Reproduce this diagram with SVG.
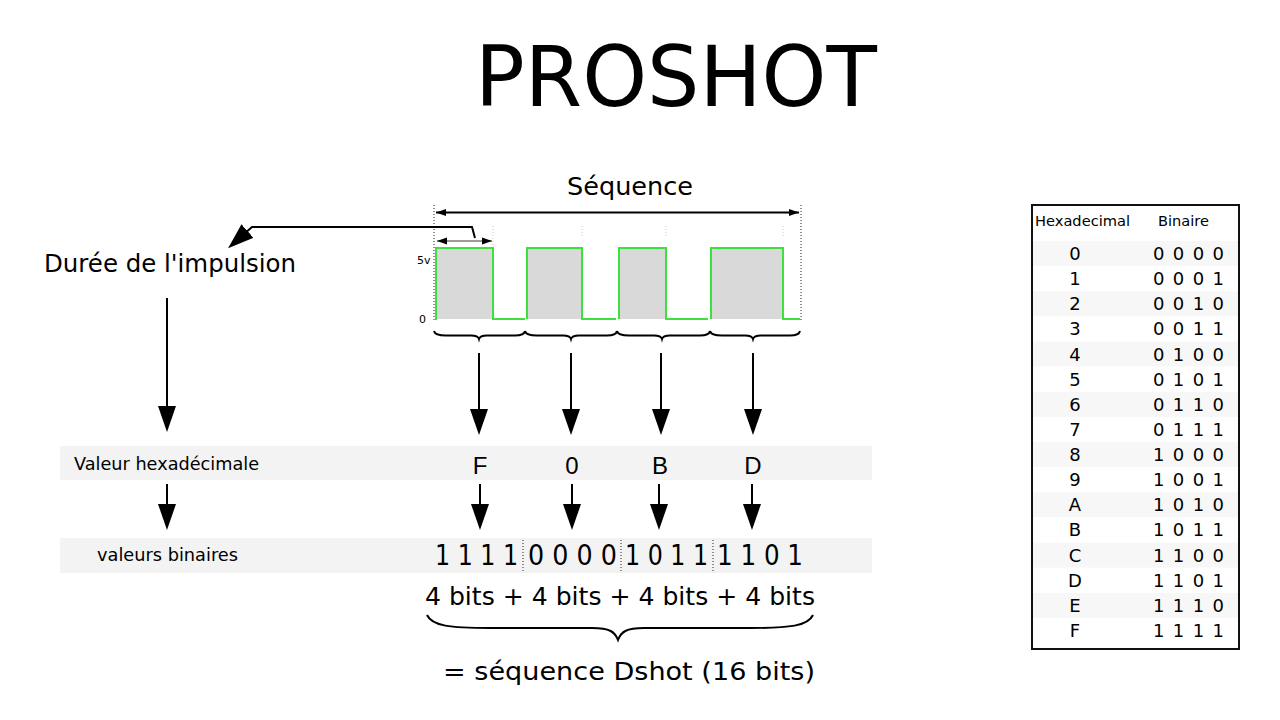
<svg xmlns="http://www.w3.org/2000/svg" width="1280" height="720" viewBox="0 0 1280 720">
<style>
  .t{font-family:"DejaVu Sans","Liberation Sans",sans-serif;fill:#000}
  .ln{stroke:#000;stroke-width:2;fill:none}
  .dot{stroke:#222;stroke-width:1;stroke-dasharray:1 2;fill:none}
  .faint{stroke:#c8c8c8;stroke-width:1;stroke-dasharray:1 2;fill:none}
  .band{fill:#f3f3f3}
  .tband{fill:#f7f7f7}
  .pulse{fill:#d9d9d9}
  .wave{stroke:#3ee03e;stroke-width:2;fill:none}
  .brace{stroke:#000;stroke-width:2;fill:none}
</style>
<defs>
  <marker id="big" viewBox="0 -9 26 18" refX="6" refY="0" markerWidth="26" markerHeight="18" markerUnits="userSpaceOnUse" orient="auto">
    <path d="M0,-9 L26,0 L0,9 z" fill="#000"/>
  </marker>
  <marker id="sm" viewBox="0 -4 10 8" refX="10" refY="0" markerWidth="10" markerHeight="8" markerUnits="userSpaceOnUse" orient="auto-start-reverse">
    <path d="M0,-3.5 L10,0 L0,3.5 z" fill="#000"/>
  </marker>
</defs>
<rect width="1280" height="720" fill="#fff"/>

<g id="title">
  <text class="t" x="676" y="106" font-size="84" text-anchor="middle" textLength="402" lengthAdjust="spacingAndGlyphs">PROSHOT</text>
</g>

<g id="sequence-label">
  <text class="t" x="630" y="195" font-size="25" text-anchor="middle" textLength="126" lengthAdjust="spacingAndGlyphs">Séquence</text>
</g>

<g id="waveform">
  <line class="dot" x1="434" y1="205" x2="434" y2="321"/>
  <line class="dot" x1="801" y1="205" x2="801" y2="321"/>
  <line class="faint" x1="493" y1="226" x2="493" y2="246"/>
  <line class="faint" x1="582" y1="226" x2="582" y2="236"/>
  <line class="faint" x1="666" y1="226" x2="666" y2="236"/>
  <line class="faint" x1="783" y1="226" x2="783" y2="236"/>
  <rect class="pulse" x="436" y="248" width="57" height="71"/>
  <rect class="pulse" x="527" y="248" width="55" height="71"/>
  <rect class="pulse" x="619" y="248" width="47" height="71"/>
  <rect class="pulse" x="711" y="248" width="72" height="71"/>
  <path class="wave" d="M436,320 L436,248 L493,248 L493,319 L525,319 M527,319 L527,248 L582,248 L582,319 L616,319 M619,319 L619,248 L666,248 L666,319 L708,319 M711,319 L711,248 L783,248 L783,319 L800,319"/>
  <text class="t" x="417" y="264" font-size="11">5v</text>
  <text class="t" x="419" y="323" font-size="11">0</text>
</g>

<g id="braces">
  <path class="brace" d="M434,331 Q435,335.5 446,335.5 L471,335.5 Q478,335.5 479,339 Q480,335.5 487,335.5 L515,335.5 Q524,335.5 525,331"/>
  <path class="brace" d="M525,331 Q526,335.5 537,335.5 L563,335.5 Q570,335.5 571,339 Q572,335.5 579,335.5 L607,335.5 Q616,335.5 617,331"/>
  <path class="brace" d="M617,331 Q618,335.5 629,335.5 L654,335.5 Q661,335.5 662,339 Q663,335.5 670,335.5 L700,335.5 Q709,335.5 710,331"/>
  <path class="brace" d="M710,331 Q711,335.5 722,335.5 L745,335.5 Q752,335.5 753,339 Q754,335.5 761,335.5 L790,335.5 Q799,335.5 800,331"/>
</g>

<g id="duree">
  <text class="t" x="44" y="272" font-size="24" textLength="252" lengthAdjust="spacingAndGlyphs">Durée de l'impulsion</text>
</g>

<g id="hex-row">
  <rect class="band" x="60" y="446" width="812" height="34"/>
  <text class="t" x="74" y="470" font-size="17" textLength="185" lengthAdjust="spacingAndGlyphs">Valeur hexadécimale</text>
  <g font-family="Liberation Sans, Arial, sans-serif" font-size="24" fill="#000" text-anchor="middle">
    <text x="480" y="474">F</text>
    <text x="572" y="474">0</text>
    <text x="660" y="474">B</text>
    <text x="753" y="474">D</text>
  </g>
</g>

<g id="bin-row">
  <rect class="band" x="60" y="538" width="812" height="35"/>
  <text class="t" x="97" y="561" font-size="17.5" textLength="141" lengthAdjust="spacingAndGlyphs">valeurs binaires</text>
  <text class="t" x="435" y="565" font-size="28" textLength="83" lengthAdjust="spacingAndGlyphs">1 1 1 1</text>
  <text class="t" x="528" y="565" font-size="28" textLength="89" lengthAdjust="spacingAndGlyphs">0 0 0 0</text>
  <text class="t" x="625" y="565" font-size="28" textLength="83" lengthAdjust="spacingAndGlyphs">1 0 1 1</text>
  <text class="t" x="717" y="565" font-size="28" textLength="86" lengthAdjust="spacingAndGlyphs">1 1 0 1</text>
  <line class="dot" x1="523" y1="540" x2="523" y2="573"/>
  <line class="dot" x1="621" y1="540" x2="621" y2="573"/>
  <line class="dot" x1="713" y1="540" x2="713" y2="573"/>
</g>

<g id="bits-sum">
  <text class="t" x="425" y="605" font-size="25" textLength="390" lengthAdjust="spacingAndGlyphs">4 bits + 4 bits + 4 bits + 4 bits</text>
  <path class="brace" stroke-width="1.6" d="M427,615 C432,626 450,628 490,628 L592,628 C610,628 615,632 618,640 C621,632 626,628 644,628 L750,628 C790,628 808,626 813,615"/>
  <text class="t" x="443" y="680" font-size="25" textLength="372" lengthAdjust="spacingAndGlyphs">= séquence Dshot (16 bits)</text>
</g>

<g id="connectors">
  <line class="ln" stroke-width="1.5" x1="436" y1="212.5" x2="799" y2="212.5" marker-start="url(#sm)" marker-end="url(#sm)"/>
  <line stroke="#9a9a9a" stroke-width="2" x1="437" y1="241" x2="492" y2="241" marker-start="url(#sm)" marker-end="url(#sm)"/>
  <path class="ln" d="M475,238 L472,227 L252,227 L243,235" marker-end="url(#big)"/>
  <line class="ln" x1="167" y1="298" x2="167" y2="412" marker-end="url(#big)"/>
  <line class="ln" x1="479" y1="353" x2="479" y2="415" marker-end="url(#big)"/>
  <line class="ln" x1="571" y1="353" x2="571" y2="415" marker-end="url(#big)"/>
  <line class="ln" x1="661" y1="353" x2="661" y2="415" marker-end="url(#big)"/>
  <line class="ln" x1="753" y1="353" x2="753" y2="415" marker-end="url(#big)"/>
  <line class="ln" x1="167" y1="484" x2="167" y2="510" marker-end="url(#big)"/>
  <line class="ln" x1="480" y1="484" x2="480" y2="510" marker-end="url(#big)"/>
  <line class="ln" x1="572" y1="484" x2="572" y2="510" marker-end="url(#big)"/>
  <line class="ln" x1="659" y1="484" x2="659" y2="510" marker-end="url(#big)"/>
  <line class="ln" x1="752" y1="484" x2="752" y2="510" marker-end="url(#big)"/>
</g>

<g id="table">
  <rect class="tband" x="1033" y="241" width="205" height="25"/>
  <rect class="tband" x="1033" y="291.3" width="205" height="25"/>
  <rect class="tband" x="1033" y="341.5" width="205" height="25"/>
  <rect class="tband" x="1033" y="391.8" width="205" height="25"/>
  <rect class="tband" x="1033" y="442" width="205" height="25"/>
  <rect class="tband" x="1033" y="492.3" width="205" height="25"/>
  <rect class="tband" x="1033" y="542.6" width="205" height="25"/>
  <rect class="tband" x="1033" y="592.8" width="205" height="25"/>
  <rect x="1032" y="205" width="207" height="444" fill="none" stroke="#111" stroke-width="2"/>
  <text class="t" x="1035" y="225.5" font-size="14.5" textLength="95" lengthAdjust="spacingAndGlyphs">Hexadecimal</text>
  <text class="t" x="1158" y="225.5" font-size="14.5" textLength="51" lengthAdjust="spacingAndGlyphs">Binaire</text>
  <g class="t" font-size="18" text-anchor="middle">
    <text x="1075" y="260">0</text>
    <text x="1075" y="285.1">1</text>
    <text x="1075" y="310.3">2</text>
    <text x="1075" y="335.4">3</text>
    <text x="1075" y="360.5">4</text>
    <text x="1075" y="385.7">5</text>
    <text x="1075" y="410.8">6</text>
    <text x="1075" y="435.9">7</text>
    <text x="1075" y="461">8</text>
    <text x="1075" y="486.2">9</text>
    <text x="1075" y="511.3">A</text>
    <text x="1075" y="536.4">B</text>
    <text x="1075" y="561.6">C</text>
    <text x="1075" y="586.7">D</text>
    <text x="1075" y="611.8">E</text>
    <text x="1075" y="637">F</text>
  </g>
  <g class="t" font-size="18">
    <text x="1153" y="260" textLength="71" lengthAdjust="spacing">0 0 0 0</text>
    <text x="1153" y="285.1" textLength="71" lengthAdjust="spacing">0 0 0 1</text>
    <text x="1153" y="310.3" textLength="71" lengthAdjust="spacing">0 0 1 0</text>
    <text x="1153" y="335.4" textLength="71" lengthAdjust="spacing">0 0 1 1</text>
    <text x="1153" y="360.5" textLength="71" lengthAdjust="spacing">0 1 0 0</text>
    <text x="1153" y="385.7" textLength="71" lengthAdjust="spacing">0 1 0 1</text>
    <text x="1153" y="410.8" textLength="71" lengthAdjust="spacing">0 1 1 0</text>
    <text x="1153" y="435.9" textLength="71" lengthAdjust="spacing">0 1 1 1</text>
    <text x="1153" y="461" textLength="71" lengthAdjust="spacing">1 0 0 0</text>
    <text x="1153" y="486.2" textLength="71" lengthAdjust="spacing">1 0 0 1</text>
    <text x="1153" y="511.3" textLength="71" lengthAdjust="spacing">1 0 1 0</text>
    <text x="1153" y="536.4" textLength="71" lengthAdjust="spacing">1 0 1 1</text>
    <text x="1153" y="561.6" textLength="71" lengthAdjust="spacing">1 1 0 0</text>
    <text x="1153" y="586.7" textLength="71" lengthAdjust="spacing">1 1 0 1</text>
    <text x="1153" y="611.8" textLength="71" lengthAdjust="spacing">1 1 1 0</text>
    <text x="1153" y="637" textLength="71" lengthAdjust="spacing">1 1 1 1</text>
  </g>
</g>
</svg>
